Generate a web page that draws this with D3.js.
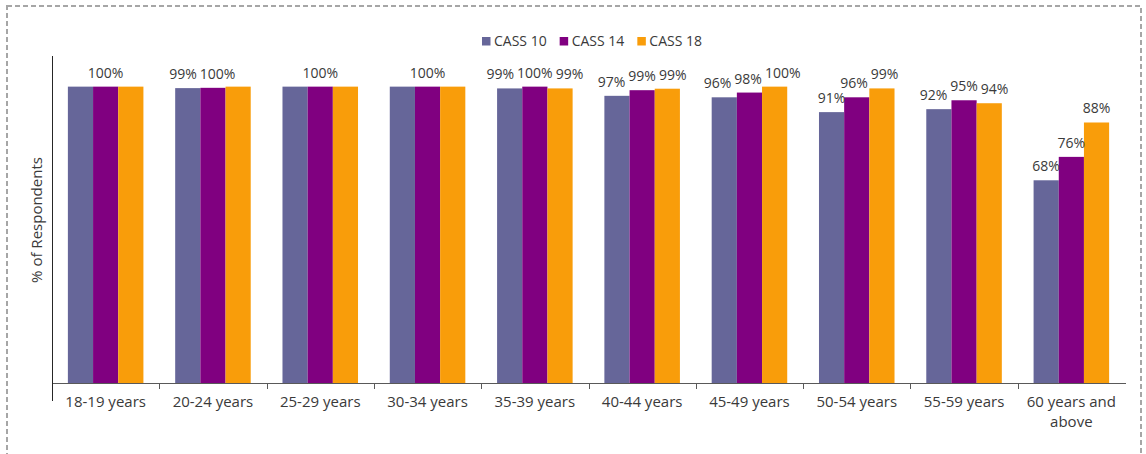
<!DOCTYPE html>
<html>
<head>
<meta charset="utf-8">
<script src="https://cdn.jsdelivr.net/npm/d3@7"></script>
<style>
  html, body { margin: 0; padding: 0; background: #fff; }
  svg { display: block; font-family: "Open Sans", "Liberation Sans", sans-serif; }
</style>
</head>
<body>
<svg id="chart" width="1146" height="454"></svg>
<script>
// ---- data ----
const categories = ["18-19 years", "20-24 years", "25-29 years", "30-34 years", "35-39 years",
                    "40-44 years", "45-49 years", "50-54 years", "55-59 years", "60 years and above"];
const seriesNames = ["CASS 10", "CASS 14", "CASS 18"];
const cass10 = [100, 99.5, 100, 100, 99.4, 96.9, 96.4, 91.4, 92.4, 68.4];
const cass14 = [100, 99.6, 100, 100, 100, 98.8, 98.0, 96.4, 95.4, 76.3];
const cass18 = [100, 100, 100, 100, 99.4, 99.3, 100, 99.4, 94.4, 87.9];
// data labels shown in the picture (null = no label)
const labels10 = [null, "99%", null, null, "99%", "97%", "96%", "91%", "92%", "68%"];
const labels14 = ["100%", "100%", "100%", "100%", "100%", "99%", "98%", "96%", "95%", "76%"];
const labels18 = [null, null, null, null, "99%", "99%", "100%", "99%", "94%", "88%"];
const yAxisTitle = "% of Respondents";
const yMax = 110;

// ---- styles ----
const colors = ["#666699", "#800080", "#f99d0a"];
const textColor = "#3a3a3a";

const svg = d3.select("#chart");
const m = { left: 52, right: 1125, top: 57, bottom: 383 };

// dashed outer border
svg.append("rect")
  .attr("x", 7).attr("y", 6).attr("width", 1134).attr("height", 460)
  .attr("fill", "none").attr("stroke", "#a6a6a6").attr("stroke-width", 2)
  .attr("stroke-dasharray", "5,3");

const x = d3.scaleBand().domain(categories).range([m.left, m.right])
  .paddingInner(0.296).paddingOuter(0.148);
const xs = d3.scaleBand().domain(seriesNames).range([0, x.bandwidth()]);
const y = d3.scaleLinear().domain([0, yMax]).range([m.bottom, m.top]);

const values = [cass10, cass14, cass18];
const labelArrs = [labels10, labels14, labels18];

// bars
seriesNames.forEach((s, si) => {
  svg.append("g").selectAll("rect")
    .data(categories.map((c, i) => ({ c, v: values[si][i] })))
    .join("rect")
    .attr("x", d => x(d.c) + xs(s))
    .attr("y", d => y(d.v))
    .attr("width", xs.bandwidth())
    .attr("height", d => y(0) - y(d.v))
    .attr("fill", colors[si]);
});

// x axis line
svg.append("line")
  .attr("x1", m.left).attr("x2", m.right + 1)
  .attr("y1", m.bottom + 0.5).attr("y2", m.bottom + 0.5)
  .attr("stroke", "#595959").attr("stroke-width", 1);
// category ticks (between categories)
const step = x.step();
const x0 = x(categories[0]) - x.paddingOuter() * step;
for (let i = 1; i < categories.length; i++) {
  const tx = Math.round(x0 + i * step) + 0.5;
  svg.append("line").attr("x1", tx).attr("x2", tx)
    .attr("y1", m.bottom).attr("y2", m.bottom + 6)
    .attr("stroke", "#595959");
}
// y axis line (extends below axis as in the reference)
svg.append("line")
  .attr("x1", m.left + 0.5).attr("x2", m.left + 0.5)
  .attr("y1", m.top - 1).attr("y2", m.bottom + 18)
  .attr("stroke", "#262626").attr("stroke-width", 1);

// category labels (wrap)
const catG = svg.append("g");
categories.forEach(c => {
  const cx = x(c) + x.bandwidth() / 2;
  const t = catG.append("text").attr("x", cx).attr("y", 407)
    .attr("text-anchor", "middle").attr("fill", textColor).attr("font-size", 15);
  const lines = c === "60 years and above" ? ["60 years and", "above"] : [c];
  lines.forEach((ln, li) => {
    t.append("tspan").attr("x", cx).attr("dy", li === 0 ? 0 : 20).text(ln);
  });
});

// y axis title
svg.append("text")
  .attr("transform", `translate(42,${(m.top + m.bottom) / 2}) rotate(-90)`)
  .attr("text-anchor", "middle").attr("fill", textColor).attr("font-size", 15)
  .text(yAxisTitle);

// data labels with simple overlap relaxation inside each group
const lblG = svg.append("g");
categories.forEach((c, i) => {
  const items = [];
  seriesNames.forEach((s, si) => {
    const txt = labelArrs[si][i];
    if (!txt) return;
    const t = lblG.append("text").attr("text-anchor", "middle")
      .attr("fill", textColor).attr("font-size", 14).text(txt);
    const w = t.node().getComputedTextLength();
    items.push({ t, w, cx: x(c) + xs(s) + xs.bandwidth() / 2, by: y(values[si][i]) - 9 });
  });
  const gap = 3, hgt = 11;
  for (let iter = 0; iter < 50; iter++) {
    for (let a = 0; a < items.length - 1; a++) {
      const A = items[a], B = items[a + 1];
      if (Math.abs(A.by - B.by) >= hgt) continue;
      const need = (A.w + B.w) / 2 + gap - (B.cx - A.cx);
      if (need > 0.01) { A.cx -= need / 2; B.cx += need / 2; }
    }
  }
  items.forEach(d => d.t.attr("x", d.cx).attr("y", d.by));
});

// legend
const legG = svg.append("g");
let lx = 0;
seriesNames.forEach((s, si) => {
  const g = legG.append("g");
  g.append("rect").attr("x", 0).attr("y", -8.5).attr("width", 8.5).attr("height", 8.5).attr("fill", colors[si]);
  const t = g.append("text").attr("x", 12).attr("y", 0).attr("fill", textColor)
    .attr("font-size", 14).text(s);
  const w = 12 + t.node().getComputedTextLength();
  g.attr("transform", `translate(${lx},0)`);
  lx += w + 13;
});
const legW = lx - 13;
legG.attr("transform", `translate(${592 - legW / 2},45.5)`);
</script>
</body>
</html>
